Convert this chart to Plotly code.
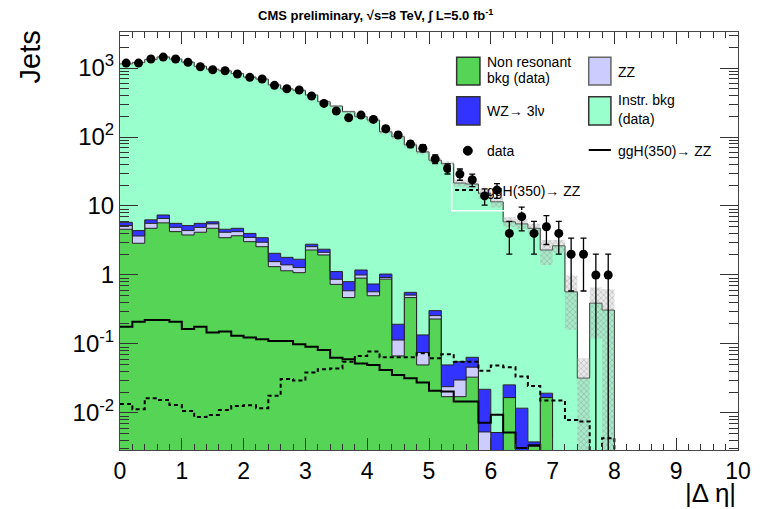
import numpy as np
import plotly.graph_objects as go

# ---------------- data (50 bins of width 0.2 in |delta eta|) ----------------
bin_edges = [round(0.2 * i, 1) for i in range(51)]

data_counts = [1180, 1180, 1350, 1440, 1350, 1210, 1045, 945, 915, 820,
               733, 693, 561, 501, 480, 393, 307, 238, 190, 208,
               180, 132, 107, 79, 69, 48, 35, 29, 24, 14,
               17, 4, 7, 4, 5, 4, 2, 2, 1, 1,
               0, 0, 0, 0, 0, 0, 0, 0, 0, 0]

total_bkg = [1150, 1200, 1330, 1450, 1350, 1220, 1060, 960, 910, 830,
             740, 690, 570, 500, 475, 406, 325, 281, 233, 197,
             176, 119, 101, 77, 61, 46, 41, 21.5, 20.8, 15.3,
             11.5, 5.9, 5.5, 4.75, 2.3, 2.65, 0.57, 0.032, 0.39, 0.31,
             0, 0, 0, 0, 0, 0, 0, 0, 0, 0]

nonres_bkg = [4.6, 2.88, 4.75, 5.7, 4.25, 3.8, 4.16, 4.75, 3.47, 3.7,
              3.04, 2.57, 1.32, 1.15, 1.08, 2.3, 1.95, 0.73, 0.47, 0.9,
              0.5, 0.87, 0.067, 0.47, 0.0496, 0.23, 0.0172, 0.0172, 0.033, 0,
              0, 0.0167, 0, 0.0033, 0.0167, 0, 0, 0, 0, 0,
              0, 0, 0, 0, 0, 0, 0, 0, 0, 0]

zz_bkg = [0.6, 0.79, 0.85, 0.9, 0.65, 0.6, 0.74, 0.75, 0.69, 0.55,
          0.46, 0.41, 0.24, 0.25, 0.2, 0.27, 0.18, 0.135, 0.12, 0.1,
          0.07, 0.05, 0.047, 0.04, 0.0254, 0.027, 0.0068, 0.0128, 0.013, 0.0053,
          0, 0, 0, 0, 0, 0, 0, 0, 0, 0,
          0, 0, 0, 0, 0, 0, 0, 0, 0, 0]

wz_bkg = [0.6, 0.73, 0.7, 0.8, 0.7, 0.8, 0.7, 0.4, 0.44, 0.5,
          0.5, 0.49, 0.5, 0.4, 0.41, 0.22, 0.23, 0.255, 0.21, 0.18,
          0.17, 0.11, 0.079, 0.05, 0.06, 0.047, 0.0256, 0.0254, 0.018, 0.0167,
          0.0052, 0.0088, 0.0117, 0.0005, 0.0026, 0, 0, 0, 0, 0,
          0, 0, 0, 0, 0, 0, 0, 0, 0, 0]

bkg_unc = [46, 48, 53, 58, 54, 49, 42, 38, 36, 33,
           30, 28, 23, 20, 19, 16, 13, 11, 9.3, 7.9,
           14, 9.5, 8.1, 6.2, 4.9, 3.7, 3.3, 2.5, 2.5, 2.5,
           2.0, 1.0, 0.9, 0.8, 0.9, 0.55, 0.41, 0.03, 0.27, 0.31,
           0, 0, 0, 0, 0, 0, 0, 0, 0, 0]

ggh_signal = [0.178, 0.21, 0.223, 0.223, 0.21, 0.165, 0.178, 0.146, 0.151, 0.132,
              0.124, 0.117, 0.11, 0.11, 0.099, 0.091, 0.082, 0.063, 0.06, 0.052,
              0.0496, 0.042, 0.0355, 0.0318, 0.0275, 0.021, 0.0204, 0.0146, 0.0146, 0.0072,
              0.0094, 0.0052, 0.0031, 0.0034, 0, 0, 0, 0, 0, 0,
              0, 0, 0, 0, 0, 0, 0, 0, 0, 0]

ggh_dashed = [0.0135, 0.0113, 0.0163, 0.0154, 0.013, 0.0107, 0.0087, 0.0093, 0.011, 0.0126,
              0.0129, 0.0117, 0.0178, 0.031, 0.0294, 0.0384, 0.043, 0.044, 0.0554, 0.067,
              0.0774, 0.064, 0.064, 0.064, 0.073, 0.062, 0.071, 0.0554, 0.0554, 0.041,
              0.0485, 0.046, 0.0336, 0.0246, 0.0151, 0.0151, 0.0079, 0.0075, 0, 0.0043,
              0, 0, 0, 0, 0, 0, 0, 0, 0, 0]

y_tickvals = [0.01, 0.1, 1, 10, 100, 1000]
y_ticktext = ["10<sup>-2</sup>", "10<sup>-1</sup>", "1", "10", "10<sup>2</sup>", "10<sup>3</sup>"]
x_tickvals = [0, 1, 2, 3, 4, 5, 6, 7, 8, 9, 10]

# ---------------- helpers ----------------
FLOOR = 1e-6
edges = np.array(bin_edges)
centers = 0.5 * (edges[:-1] + edges[1:])


def step_y(vals):
    v = np.maximum(np.asarray(vals, dtype=float), FLOOR)
    return np.append(v, v[-1])


green_c = np.array(nonres_bkg)
zz_c = green_c + np.array(zz_bkg)
wz_c = zz_c + np.array(wz_bkg)
tot_c = np.maximum(np.array(total_bkg), wz_c)
unc = np.array(bkg_unc)
band_lo = np.where(tot_c > 0, tot_c - unc, 0)
band_hi = np.where(tot_c > 0, tot_c + unc, 0)

C_GREEN = "#55D455"
C_ZZ = "#CCCCFF"
C_WZ = "#3333FF"
C_INSTR = "#99FFCC"
OUTL = "#222222"

fig = go.Figure()
fig.add_trace(go.Scatter(x=edges, y=step_y(np.zeros(50)), mode="lines", line=dict(width=0, shape="hv"),
                         showlegend=False, hoverinfo="skip"))
for cum, col in [(green_c, C_GREEN), (zz_c, C_ZZ), (wz_c, C_WZ), (tot_c, C_INSTR)]:
    fig.add_trace(go.Scatter(x=edges, y=step_y(cum), mode="lines",
                             line=dict(width=1, color=OUTL, shape="hv"),
                             fill="tonexty", fillcolor=col, showlegend=False))

# uncertainty band
fig.add_trace(go.Scatter(x=edges, y=step_y(band_lo), mode="lines", line=dict(width=0, shape="hv"),
                         showlegend=False, hoverinfo="skip"))
fig.add_trace(go.Scatter(x=edges, y=step_y(band_hi), mode="lines", line=dict(width=0, shape="hv"),
                         fill="tonexty", fillcolor="rgba(150,150,150,0.35)",
                         fillpattern=dict(shape="x", fgcolor="rgba(110,110,110,0.8)",
                                          bgcolor="rgba(190,190,190,0.35)", size=4, solidity=0.3),
                         showlegend=False))

# signal lines
fig.add_trace(go.Scatter(x=edges, y=step_y(ggh_signal), mode="lines",
                         line=dict(width=2, color="black", shape="hv"), showlegend=False))
fig.add_trace(go.Scatter(x=edges, y=step_y(ggh_dashed), mode="lines",
                         line=dict(width=2, color="black", shape="hv", dash="4px,3px"), showlegend=False))

# data
cnt = np.array(data_counts, dtype=float)
mask = cnt > 0
err = np.sqrt(cnt[mask])
err_lo = np.minimum(err, cnt[mask] * 0.9999)
fig.add_trace(go.Scatter(x=centers[mask], y=cnt[mask], mode="markers",
                         marker=dict(color="black", size=9, symbol="circle"),
                         error_y=dict(type="data", array=err, arrayminus=err_lo,
                                      color="black", thickness=1.3, width=3),
                         showlegend=False))

# ---------------- layout ----------------
L, R, T, B = 120, 741, 32, 450
W, H = 763, 509


def px(xp):
    return (xp - L) / (R - L)


def py(yp):
    return (B - yp) / (B - T)


minor_y = [m * 10.0 ** d for d in range(-3, 4) for m in range(2, 10)]

FONT = "Liberation Sans, Arial, Helvetica, sans-serif"

fig.update_layout(
    width=W, height=H,
    margin=dict(l=L, r=W - R, t=T, b=H - B),
    paper_bgcolor="white", plot_bgcolor="white",
    font=dict(family=FONT, color="black"),
    xaxis=dict(range=[0, 10], tickvals=x_tickvals, ticks="inside", ticklen=12, tickwidth=1,
               tickcolor="#333", showline=True, linecolor="#444", linewidth=1, mirror="ticks",
               showgrid=False, zeroline=False, tickfont=dict(size=23, family=FONT),
               minor=dict(ticks="inside", ticklen=6, dtick=0.2, tick0=0, tickcolor="#333", showgrid=False)),
    yaxis=dict(type="log", range=[np.log10(0.0029), np.log10(3330)], tickvals=y_tickvals,
               ticktext=y_ticktext, ticks="inside", ticklen=18, tickwidth=1, tickcolor="#333",
               showline=True, linecolor="#444", linewidth=1, mirror="ticks", showgrid=False,
               zeroline=False, tickfont=dict(size=24, family=FONT),
               minor=dict(ticks="inside", ticklen=9, tickmode="array", tickvals=minor_y,
                          tickcolor="#333", showgrid=False)),
)

ann = []
shapes = []

ann.append(dict(text="<b>CMS preliminary, √s=8 TeV, ∫ L=5.0 fb<sup>-1</sup></b>", x=px(377), y=py(15),
                xref="paper", yref="paper", showarrow=False, xanchor="center", yanchor="middle",
                font=dict(size=13, family=FONT)))
ann.append(dict(text="Jets", x=px(30), y=py(57), xref="paper", yref="paper", showarrow=False,
                textangle=-90, xanchor="center", yanchor="middle", font=dict(size=29, family=FONT)))
ann.append(dict(text="|Δ η|", x=px(741), y=py(493), xref="paper", yref="paper", showarrow=False,
                xanchor="right", yanchor="middle", font=dict(size=26, family=FONT)))


def rect(x0, y0, x1, y1, fill, line="#333"):
    shapes.append(dict(type="rect", xref="paper", yref="paper", x0=px(x0), x1=px(x1), y0=py(y1), y1=py(y0),
                       fillcolor=fill, line=dict(color=line, width=1.5), layer="above"))


def text(s, x, y):
    ann.append(dict(text=s, x=px(x), y=py(y), xref="paper", yref="paper", showarrow=False,
                    xanchor="left", yanchor="middle", font=dict(size=14, family=FONT)))


rect(458.3, 57.3, 481.7, 85, C_GREEN)
rect(591, 57.3, 613.3, 85, C_ZZ, "#666")
rect(458.3, 96.7, 481.7, 125, C_WZ)
rect(591, 96.7, 613.3, 125, C_INSTR)
shapes.append(dict(type="circle", xref="paper", yref="paper", x0=px(465), x1=px(474), y0=py(155.2),
                   y1=py(146.2), fillcolor="black", line=dict(color="black", width=1), layer="above"))
shapes.append(dict(type="line", xref="paper", yref="paper", x0=px(591), x1=px(613.3), y0=py(150), y1=py(150),
                   line=dict(color="black", width=2), layer="above"))
# white border of the second legend box
shapes.append(dict(type="line", xref="paper", yref="paper", x0=px(453.3), x1=px(453.3), y0=py(163.3),
                   y1=py(210.7), line=dict(color="white", width=1.5), layer="above"))
shapes.append(dict(type="line", xref="paper", yref="paper", x0=px(453.3), x1=px(620), y0=py(210.7),
                   y1=py(210.7), line=dict(color="white", width=1.5), layer="above"))
shapes.append(dict(type="line", xref="paper", yref="paper", x0=px(456.7), x1=px(480), y0=py(190), y1=py(190),
                   line=dict(color="black", width=2, dash="4px,3px"), layer="above"))

text("Non resonant", 486.7, 62.5)
text("bkg (data)", 486.7, 78)
text("ZZ", 618.7, 71.7)
text("WZ→ 3lν", 486.7, 110.5)
text("Instr. bkg", 618.7, 100)
text("(data)", 618.7, 119)
text("data", 486.7, 151)
text("ggH(350)→ ZZ", 618.7, 150.5)
text("ggH(350)→ ZZ", 486.7, 190.5)

fig.update_layout(annotations=ann, shapes=shapes)

fig.write_html("out.html")
